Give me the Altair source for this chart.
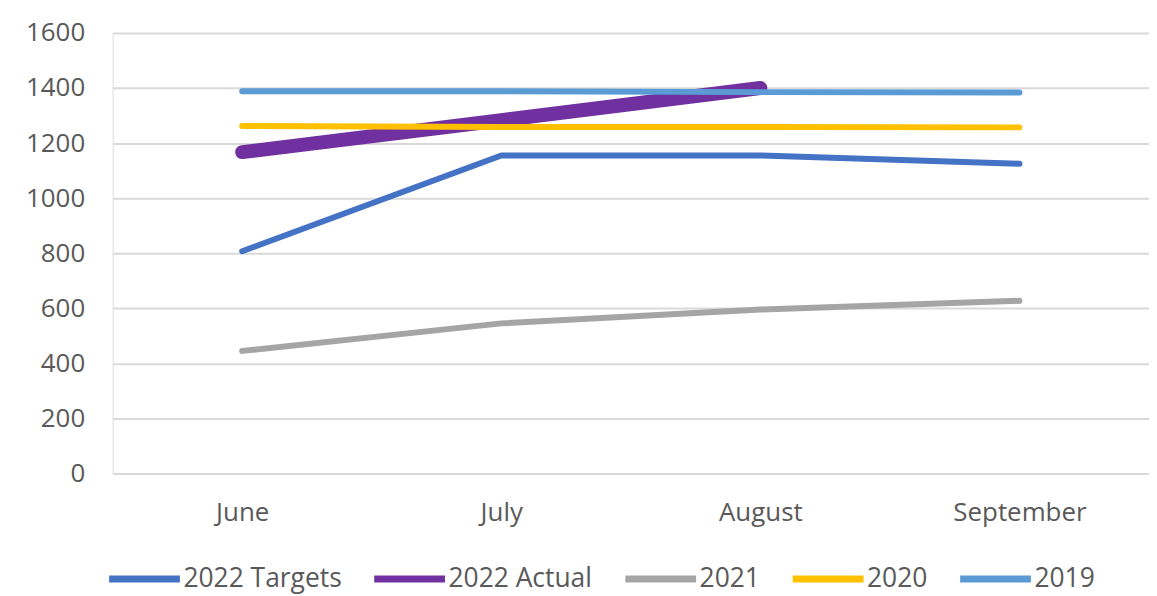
import altair as alt
import pandas as pd

months = ["June", "July", "August", "September"]
series_names = ["2022 Targets", "2022 Actual", "2021", "2020", "2019"]
colors = ["#4472C4", "#7030A0", "#A5A5A5", "#FFC000", "#5B9BD5"]
widths = [6, 14, 6, 6, 6]

targets_2022 = [807, 1155, 1155, 1125]
actual_2022 = [1167, 1283, 1400, None]
y2021 = [445, 545, 595, 627]
y2020 = [1262, 1258, 1258, 1257]
y2019 = [1388, 1388, 1385, 1384]

all_vals = [targets_2022, actual_2022, y2021, y2020, y2019]
rows = []
for name, vals in zip(series_names, all_vals):
    for m, v in zip(months, vals):
        if v is not None:
            rows.append({"month": m, "value": v, "series": name})
df = pd.DataFrame(rows)

FONT = "Open Sans"
TXT = "#595959"

base = alt.Chart(df).encode(
    x=alt.X("month:N", sort=months, title=None,
            scale=alt.Scale(type="point", padding=0.5),
            axis=alt.Axis(labelAngle=0, ticks=False, domain=False, grid=False,
                          labelFontSize=26, labelFont=FONT, labelColor=TXT,
                          labelPadding=26)),
    y=alt.Y("value:Q", title=None,
            scale=alt.Scale(domain=[0, 1600], nice=False),
            axis=alt.Axis(values=list(range(0, 1601, 200)), ticks=False, domain=False,
                          format="d",
                          gridColor="#D9D9D9", gridWidth=2,
                          labelFontSize=26, labelFont=FONT, labelColor=TXT,
                          labelPadding=28)),
    color=alt.Color("series:N", title=None,
                    scale=alt.Scale(domain=series_names, range=colors),
                    legend=alt.Legend(orient="none", direction="horizontal",
                                      legendX=-7, legendY=509,
                                      symbolType="stroke", symbolSize=5041,
                                      symbolStrokeWidth=7,
                                      labelFontSize=26.5, labelFont=FONT, labelColor=TXT,
                                      labelOffset=0, columnPadding=18,
                                      labelLimit=400)),
)

layers = []
for name, w in zip(series_names, widths):
    layers.append(
        base.transform_filter(alt.datum.series == name)
        .mark_line(strokeWidth=w, strokeCap="round", strokeJoin="round")
    )

chart = alt.layer(*layers).properties(
    width=1040, height=442,
    autosize=alt.AutoSizeParams(type="none"),
    padding={"left": 105, "top": 24, "right": 0, "bottom": 122},
).configure_view(stroke=None).configure(background="white")

chart.save("out.html", embed_options={"renderer": "svg", "actions": False})
